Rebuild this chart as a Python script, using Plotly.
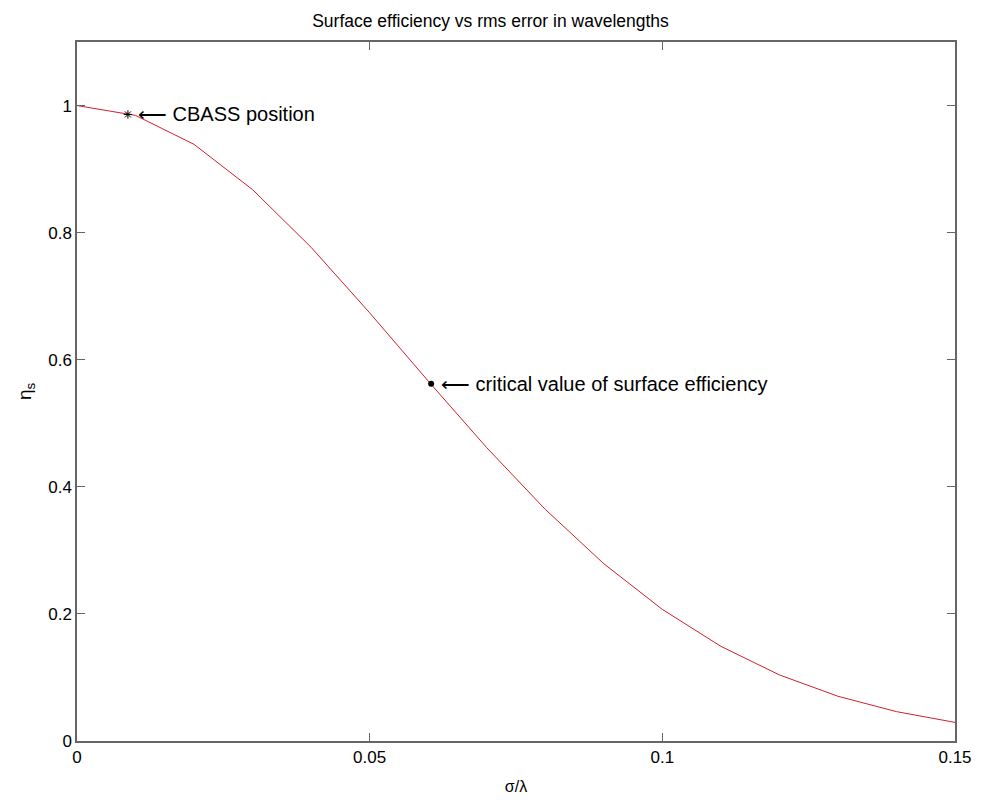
import plotly.graph_objects as go

# surface efficiency sampled every 0.01 in sigma/lambda
sigma_over_lambda = [0.00, 0.01, 0.02, 0.03, 0.04, 0.05, 0.06, 0.07,
                     0.08, 0.09, 0.10, 0.11, 0.12, 0.13, 0.14, 0.15]
eta_s = [1.000, 0.9845, 0.9389, 0.8676, 0.7769, 0.6738, 0.5665, 0.4616,
         0.3645, 0.2790, 0.2071, 0.1490, 0.1040, 0.0704, 0.0462, 0.0293]

# marked points
cbass_x, cbass_y = [0.0087], [0.986]
crit_x, crit_y = [0.0605], [0.562]

x_ticks = [0, 0.05, 0.1, 0.15]
x_tick_text = ["0", "0.05", "0.1", "0.15"]
y_ticks = [0, 0.2, 0.4, 0.6, 0.8, 1.0]
y_tick_text = ["0", "0.2", "0.4", "0.6", "0.8", "1"]

font_family = "Liberation Sans, Arial, sans-serif"

fig = go.Figure()
fig.add_trace(go.Scatter(x=sigma_over_lambda, y=eta_s, mode="lines",
                         line=dict(color="#d02030", width=1)))
fig.add_trace(go.Scatter(x=cbass_x, y=cbass_y, mode="markers",
                         marker=dict(symbol="asterisk-open", size=7,
                                     color="black", line=dict(width=1, color="black"))))
fig.add_trace(go.Scatter(x=crit_x, y=crit_y, mode="markers",
                         marker=dict(symbol="circle", size=6, color="black")))

fig.add_annotation(x=cbass_x[0], y=cbass_y[0], text="⟵ CBASS position",
                   showarrow=False, xanchor="left", yanchor="middle", xshift=8,
                   font=dict(size=20, color="black", family=font_family))
fig.add_annotation(x=crit_x[0], y=crit_y[0], text="⟵ critical value of surface efficiency",
                   showarrow=False, xanchor="left", yanchor="middle", xshift=8,
                   font=dict(size=20, color="black", family=font_family))

axis_common = dict(showgrid=False, zeroline=False, showline=True, linecolor="#666666",
                   linewidth=1.5, mirror="ticks", ticks="inside", ticklen=8,
                   tickcolor="#666666", tickwidth=1, automargin=False,
                   tickfont=dict(size=17, color="black", family=font_family))

fig.update_layout(
    width=981, height=803,
    margin=dict(l=77, r=26, t=42, b=62),
    paper_bgcolor="white", plot_bgcolor="white",
    showlegend=False,
    title=dict(text="Surface efficiency vs rms error in wavelengths",
               x=0.5, xanchor="center", y=1 - 21 / 803, yanchor="middle",
               font=dict(size=17.5, color="black", family=font_family)),
    xaxis=dict(range=[0, 0.15], tickvals=x_ticks, ticktext=x_tick_text,
               title=dict(text="σ/λ", standoff=15,
                          font=dict(size=16, color="black", family=font_family)),
               **axis_common),
    yaxis=dict(range=[0, 1.1], tickvals=y_ticks, ticktext=y_tick_text,
               title=dict(text="η<sub>s</sub>", standoff=12,
                          font=dict(size=19, color="black", family=font_family)),
               **axis_common),
)

fig.write_html("out.html")
